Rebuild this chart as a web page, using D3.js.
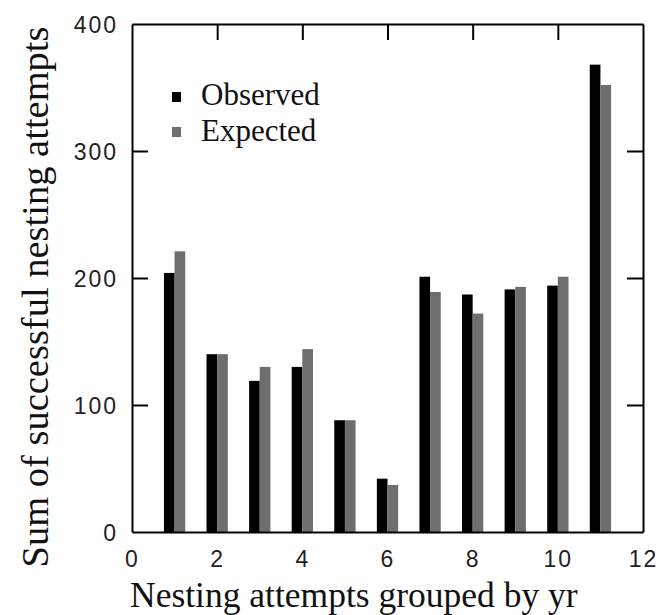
<!DOCTYPE html>
<html>
<head>
<meta charset="utf-8">
<script src="https://cdn.jsdelivr.net/npm/d3@7"></script>
<style>
	body { margin: 0; background: #fff; }
	svg { display: block; }
	.tick-label { font-family: "Liberation Sans", Arial, sans-serif; font-size: 23px; letter-spacing: 2px; fill: #222; }
	.serif { font-family: "Liberation Serif", "Times New Roman", serif; fill: #111; }
</style>
</head>
<body>
<div class="chart"></div>
<script>
// data
const groups = [1, 2, 3, 4, 5, 6, 7, 8, 9, 10, 11];
const observed = [204, 140, 119, 130, 88, 42, 201, 187, 191, 194, 368];
const expected = [221, 140, 130, 144, 88, 37, 189, 172, 193, 201, 352];
const xTicks = [0, 2, 4, 6, 8, 10, 12];
const yTicks = [0, 100, 200, 300, 400];
const seriesNames = ["Observed", "Expected"];
const seriesColors = ["#000000", "#6e6e6e"];

const width = 668, height = 615;
const margin = {top: 24, right: 25, bottom: 83, left: 132};
const barWidth = 0.25; // in x units

const svg = d3.select("div.chart")
	.append("svg")
	.attr("width", width)
	.attr("height", height);

const x = d3.scaleLinear().domain([0, 12]).range([margin.left, width - margin.right]);
const y = d3.scaleLinear().domain([0, 400]).range([height - margin.bottom, margin.top]);

// bars: observed left of the group value, expected right of it
const series = [observed, expected];
series.forEach((vals, s) => {
	svg.append("g")
		.selectAll("rect")
		.data(groups)
		.join("rect")
		.attr("x", d => x(d - barWidth + s * barWidth))
		.attr("width", x(barWidth) - x(0))
		.attr("y", (d, i) => y(vals[i]))
		.attr("height", (d, i) => y(0) - y(vals[i]))
		.attr("fill", seriesColors[s]);
});

// axes with inward ticks on all four sides
const tickLen = 16;
const axisBottom = d3.axisBottom(x).tickValues(xTicks).tickSize(-tickLen).tickPadding(tickLen + 3).tickSizeOuter(0);
const axisTop = d3.axisTop(x).tickValues(xTicks.slice(1, -1)).tickSize(-tickLen).tickFormat("").tickSizeOuter(0);
const axisLeft = d3.axisLeft(y).tickValues(yTicks).tickSize(-tickLen).tickPadding(14).tickSizeOuter(0);
const axisRight = d3.axisRight(y).tickValues(yTicks.slice(1, -1)).tickSize(-tickLen).tickFormat("").tickSizeOuter(0);

function styleAxis(g) {
	g.selectAll("path.domain").attr("stroke", "#000").attr("stroke-width", 2);
	g.selectAll(".tick line").attr("stroke", "#000").attr("stroke-width", 2);
	g.selectAll(".tick text").attr("class", "tick-label").attr("font-size", null).attr("font-family", null);
}

const gb = svg.append("g").attr("transform", `translate(0,${y(0)})`).call(axisBottom).call(styleAxis);
gb.selectAll(".tick line").remove(); // hidden behind the bars
gb.selectAll(".tick text").attr("dy", null).attr("y", 35);

svg.append("g").attr("transform", `translate(0,${y(400)})`).call(axisTop).call(styleAxis);
const gl = svg.append("g").attr("transform", `translate(${x(0)},0)`).call(axisLeft).call(styleAxis);
gl.selectAll(".tick text").attr("dy", "0.36em");
gl.selectAll(".tick").filter(d => d === 0).select("line").remove();
gl.selectAll(".tick").filter(d => d === 400).select("line").remove();
svg.append("g").attr("transform", `translate(${x(12)},0)`).call(axisRight).call(styleAxis);

// legend
const legend = svg.append("g");
seriesNames.forEach((name, i) => {
	legend.append("rect")
		.attr("x", 172)
		.attr("y", 92 + i * 35)
		.attr("width", 9)
		.attr("height", 10)
		.attr("fill", seriesColors[i]);
	legend.append("text")
		.attr("class", "serif")
		.attr("x", 201)
		.attr("y", 105 + i * 36)
		.style("font-size", "31px")
		.text(name);
});

// axis titles
svg.append("text")
	.attr("class", "serif")
	.attr("x", 130)
	.attr("y", 607)
	.style("font-size", "35.5px")
	.text("Nesting attempts grouped by yr");

svg.append("text")
	.attr("class", "serif")
	.attr("transform", "translate(48,297) rotate(-90)")
	.attr("text-anchor", "middle")
	.style("font-size", "38.5px")
	.text("Sum of successful nesting attempts");
</script>
</body>
</html>
